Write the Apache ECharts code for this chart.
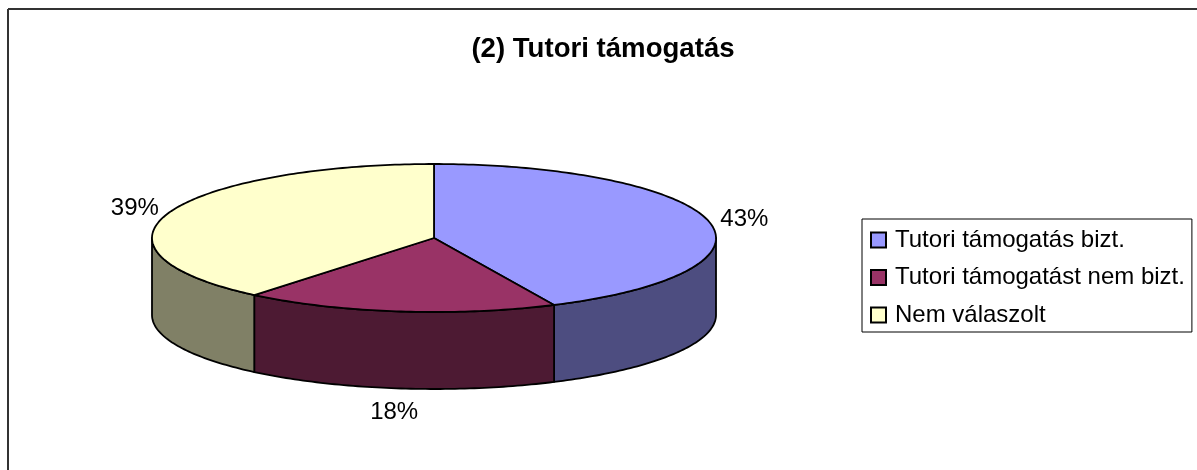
<!DOCTYPE html>
<html>
<head>
<meta charset="utf-8">
<title>(2) Tutori támogatás</title>
<style>
  html, body { margin: 0; padding: 0; background: #fff; }
  #chart { width: 1197px; height: 470px; }
</style>
<script src="https://cdn.jsdelivr.net/npm/echarts@6/dist/echarts.min.js"></script>
</head>
<body>
<div id="chart"></div>
<script>
const chartTitle = "(2) Tutori támogatás";
const categories = ["Tutori támogatás bizt.", "Tutori támogatást nem bizt.", "Nem válaszolt"];
const shares = [43, 18, 39];

const topColors = ["#9999ff", "#993366", "#ffffcc"];
const sideColors = ["#4d4d80", "#4d1a33", "#808066"];

// tilted disc layout, in pixels
const cx = 434, cy = 238, rx = 282, ry = 74, depth = 77;
const labelRx = 318, labelRy = 86, labelDrop = 89;
const font = "Liberation Sans, Arial, sans-serif";

const total = shares.reduce((a, b) => a + b, 0);

// clockwise from the top of the ellipse
function rim(deg, drop) {
  const t = deg * Math.PI / 180;
  return [cx + rx * Math.sin(t), cy - ry * Math.cos(t) + (drop || 0)];
}

function arc(from, to, drop) {
  const pts = [];
  const n = Math.max(2, Math.ceil(to - from));
  for (let i = 0; i <= n; i++) pts.push(rim(from + (to - from) * i / n, drop));
  return pts;
}

function renderSlice(i) {
  const lineStyle = { stroke: "#000", lineWidth: 1.8, lineJoin: "round" };
  const start = shares.slice(0, i).reduce((a, b) => a + b, 0) / total * 360;
  const end = start + shares[i] / total * 360;
  const mid = (start + end) / 2 * Math.PI / 180;
  const children = [];

  // only the front half of the rim is visible
  const wallFrom = Math.max(start, 90), wallTo = Math.min(end, 270);
  if (wallTo > wallFrom) {
    children.push({
      type: "polygon",
      shape: { points: arc(wallFrom, wallTo, 0).concat(arc(wallFrom, wallTo, depth).reverse()) },
      style: Object.assign({ fill: sideColors[i] }, lineStyle)
    });
  }
  children.push({
    type: "polygon",
    shape: { points: [[cx, cy]].concat(arc(start, end, 0)) },
    style: Object.assign({ fill: topColors[i] }, lineStyle)
  });
  const below = Math.cos(mid) < -0.5 ? labelDrop : 0;
  children.push({
    type: "text",
    style: {
      x: cx + labelRx * Math.sin(mid),
      y: cy - labelRy * Math.cos(mid) + below,
      text: shares[i] + "%",
      align: "center",
      verticalAlign: "middle",
      fill: "#000",
      font: "24px " + font
    }
  });
  return { type: "group", children: children };
}

const chart = echarts.init(document.getElementById("chart"), null, { renderer: "canvas" });

chart.setOption({
  animation: false,
  backgroundColor: "#fff",
  title: {
    text: chartTitle,
    left: 598,
    top: 30,
    textAlign: "center",
    textStyle: { fontFamily: font, fontSize: 27.6, fontWeight: "bold", color: "#000" }
  },
  legend: {
    orient: "vertical",
    left: 862,
    top: 219,
    padding: [9, 7, 5, 8],
    itemGap: 13.5,
    itemWidth: 15,
    itemHeight: 15,
    icon: "rect",
    selectedMode: false,
    backgroundColor: "#fff",
    borderColor: "#000",
    borderWidth: 1,
    borderRadius: 0,
    itemStyle: { borderColor: "#000", borderWidth: 2 },
    textStyle: { fontFamily: font, fontSize: 24, color: "#000", padding: [0, 0, 4, 4] },
    data: categories
  },
  graphic: [
    { type: "line", shape: { x1: 8, y1: 9, x2: 1197, y2: 9 }, style: { stroke: "#333", lineWidth: 2 } },
    { type: "line", shape: { x1: 8, y1: 9, x2: 8, y2: 470 }, style: { stroke: "#333", lineWidth: 2 } }
  ],
  series: categories.map((name, i) => ({
    type: "custom",
    name: name,
    coordinateSystem: "none",
    itemStyle: { color: topColors[i] },
    data: [shares[i]],
    renderItem: () => renderSlice(i)
  }))
});
</script>
</body>
</html>
